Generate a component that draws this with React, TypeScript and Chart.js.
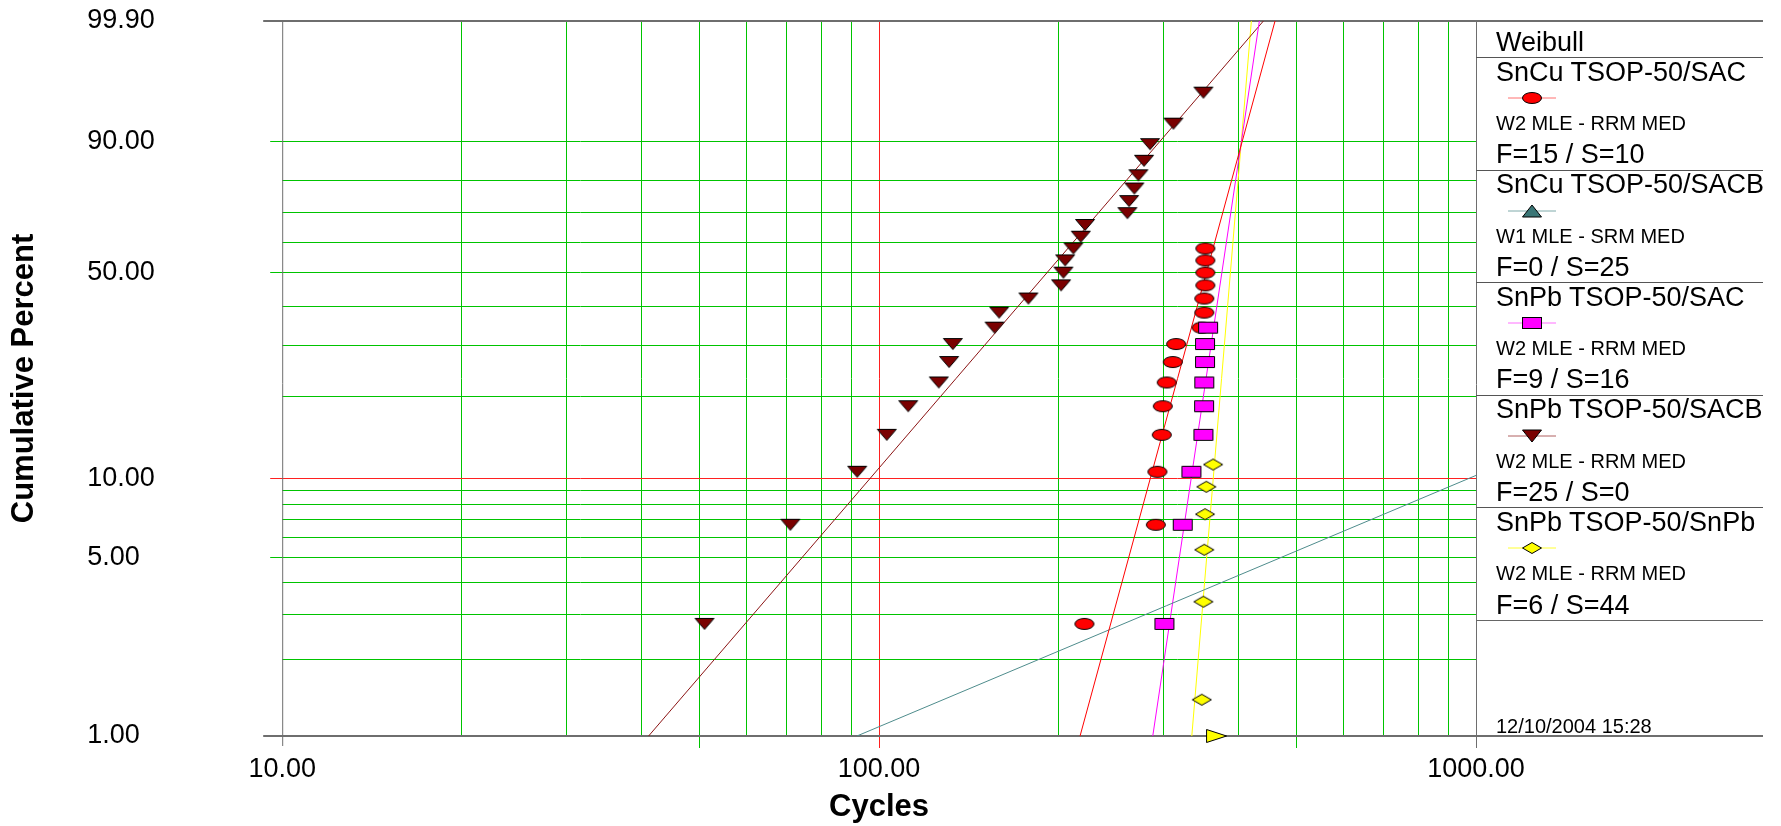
import React, { useEffect, useRef } from 'react';
import { Chart, registerables, Scale } from 'chart.js';

Chart.register(...registerables);

// ---------- axes ----------
const X_GRID = [10, 20, 30, 40, 50, 60, 70, 80, 90, 100, 200, 300, 400, 500, 600, 700, 800, 900, 1000];
const X_LABELS = [10, 100, 1000];
const X_TICK_MARKS = [50, 100, 500];
const X_REF_LINE = 100;
const Y_GRID = [1, 2, 3, 4, 5, 6, 7, 8, 9, 10, 20, 30, 40, 50, 60, 70, 80, 90, 99.9];
const Y_LABELS = [1, 5, 10, 50, 90, 99.9];
const Y_TICK_MARKS = [5, 10, 50, 90];
const Y_REF_LINE = 10;
const X_TITLE = 'Cycles';
const Y_TITLE = 'Cumulative Percent';
const LEGEND_HEADER = 'Weibull';
const TIMESTAMP = '12/10/2004 15:28';

// ---------- legend text ----------
const SERIES_NAMES = ['SnCu TSOP-50/SAC', 'SnCu TSOP-50/SACB', 'SnPb TSOP-50/SAC', 'SnPb TSOP-50/SACB', 'SnPb TSOP-50/SnPb'];
const SERIES_METHODS = ['W2 MLE - RRM MED', 'W1 MLE - SRM MED', 'W2 MLE - RRM MED', 'W2 MLE - RRM MED', 'W2 MLE - RRM MED'];
const SERIES_COUNTS = ['F=15 / S=10', 'F=0 / S=25', 'F=9 / S=16', 'F=25 / S=0', 'F=6 / S=44'];

// ---------- series data (cycles, cumulative %) ----------
const SNCU_SAC_CYCLES = [220.8, 290.8, 292.6, 297.6, 298.7, 303.3, 310.5, 314.5, 347.0, 350.6, 350.6, 352, 352, 352, 352];
const SNCU_SAC_PCT = [2.76, 6.69, 10.63, 14.57, 18.5, 22.44, 26.38, 30.31, 34.25, 38.19, 42.13, 46.06, 50.0, 53.94, 57.87];
const SNCU_SAC_FIT_CYCLES = [217.1, 460.6];
const SNCU_SAC_FIT_PCT = [1, 99.9];

const SNCU_SACB_FIT_CYCLES = [91.8, 1000];
const SNCU_SACB_FIT_PCT = [1, 10.3];

const SNPB_SAC_CYCLES = [300.6, 322.6, 333.6, 349.4, 350.3, 350.6, 351.6, 351.6, 355.8];
const SNPB_SAC_PCT = [2.76, 6.69, 10.63, 14.57, 18.5, 22.44, 26.38, 30.31, 34.25];
const SNPB_SAC_FIT_CYCLES = [287.4, 433.6];
const SNPB_SAC_FIT_PCT = [1, 99.9];

const SNPB_SACB_CYCLES = [51.0, 71.0, 91.9, 103.0, 111.9, 125.9, 131.0, 132.9, 156.1, 158.9, 177.9, 201.8, 203.6, 205.0, 211.6, 217.7, 221.3, 260.6, 262.3, 267.7, 271.9, 277.9, 284.4, 311.2, 349.4];
const SNPB_SACB_PCT = [2.76, 6.69, 10.63, 14.57, 18.5, 22.44, 26.38, 30.31, 34.25, 38.19, 42.13, 46.06, 50.0, 53.94, 57.87, 61.81, 65.75, 69.69, 73.62, 77.56, 81.5, 85.43, 89.37, 93.31, 97.24];
const SNPB_SACB_FIT_CYCLES = [41.1, 440.4];
const SNPB_SACB_FIT_PCT = [1, 99.9];

const SNPB_SNPB_CYCLES = [347.2, 349.4, 350.6, 351.6, 353.4, 362.7];
const SNPB_SNPB_PCT = [1.39, 3.37, 5.36, 7.34, 9.33, 11.31];
const SNPB_SNPB_FIT_CYCLES = [334.1, 420.4];
const SNPB_SNPB_FIT_PCT = [1, 99.9];
const SNPB_SNPB_ARROW_CYCLES = [366.8];
const SNPB_SNPB_ARROW_PCT = [1];

// ---------- styling ----------
const W = 1781;
const H = 826;
const FONT = '"Liberation Sans", Arial, Helvetica, sans-serif';
const GRID_GREEN = '#00C400';
const REF_RED = '#FF2020';
const FRAME = '#6E6E6E';
const LINE_COLORS = ['#FF0000', '#4E8C8C', '#FF00FF', '#8B1414', '#FFFF00'];
const MARKER_FILLS = ['#FF0000', '#3A7676', '#FF00FF', '#7A0000', '#FFFF00'];
const LEGEND_LINE_COLORS = ['#FF7070', '#7FAAAA', '#FF70FF', '#B06060', '#FFFF30'];
const MARKER_SHAPES = ['ellipse', 'triUp', 'rect', 'triDown', 'diamond'];

// Weibull probability transform
const weib = (p: number) => Math.log(-Math.log(1 - p / 100));
const weibInv = (t: number) => 100 * (1 - Math.exp(-Math.exp(t)));

class WeibullScale extends Scale {
  static id = 'weibull';
  static defaults = {};
  determineDataLimits() {
    const b: any = (this as any).getUserBounds();
    (this as any).min = b.min;
    (this as any).max = b.max;
  }
  buildTicks() {
    return Y_GRID.map((value) => ({ value }));
  }
  getLabelForValue(value: number) {
    return Number(value).toFixed(2);
  }
  configure() {
    super.configure();
    (this as any)._wMin = weib((this as any).min);
    (this as any)._wMax = weib((this as any).max);
  }
  getPixelForValue(value: number) {
    const s: any = this;
    return this.getPixelForDecimal((weib(value) - s._wMin) / (s._wMax - s._wMin));
  }
  getValueForPixel(pixel: number) {
    const s: any = this;
    return weibInv(s._wMin + this.getDecimalForPixel(pixel) * (s._wMax - s._wMin));
  }
}
Chart.register(WeibullScale as any);

const pts = (xs: number[], ys: number[]) => xs.map((x, i) => ({ x, y: ys[i] }));

function markerImage(shape: string, fill: string) {
  const w = 19;
  const h = 11;
  const c = document.createElement('canvas');
  c.width = w + 3;
  c.height = h + 3;
  const g = c.getContext('2d') as CanvasRenderingContext2D;
  g.translate(1.5, 1.5);
  g.beginPath();
  if (shape === 'ellipse') {
    g.ellipse(w / 2, h / 2, w / 2, h / 2, 0, 0, Math.PI * 2);
  } else if (shape === 'rect') {
    g.rect(0, 0, w, h);
  } else if (shape === 'triDown') {
    g.moveTo(0, 0); g.lineTo(w, 0); g.lineTo(w / 2, h); g.closePath();
  } else if (shape === 'triUp') {
    g.moveTo(w / 2, 0); g.lineTo(w, h); g.lineTo(0, h); g.closePath();
  } else if (shape === 'diamond') {
    g.moveTo(w / 2, 0); g.lineTo(w, h / 2); g.lineTo(w / 2, h); g.lineTo(0, h / 2); g.closePath();
  } else if (shape === 'triRight') {
    g.moveTo(0, -1); g.lineTo(w + 1, h / 2); g.lineTo(0, h + 1); g.closePath();
  }
  g.fillStyle = fill;
  g.fill();
  g.strokeStyle = '#000';
  g.lineWidth = 1;
  g.stroke();
  return c;
}

const framePlugin = {
  id: 'weibullFrame',
  beforeDatasetsDraw(chart: any) {
    const { ctx, chartArea: a } = chart;
    ctx.save();
    ctx.strokeStyle = FRAME;
    ctx.lineWidth = 2;
    ctx.beginPath();
    ctx.moveTo(a.left - 19, a.top);
    ctx.lineTo(a.right + 287, a.top);
    ctx.moveTo(a.left - 19, a.bottom);
    ctx.lineTo(a.right + 287, a.bottom);
    ctx.stroke();
    ctx.lineWidth = 1;
    ctx.beginPath();
    ctx.moveTo(a.left + 0.5, a.top);
    ctx.lineTo(a.left + 0.5, a.bottom + 10);
    ctx.moveTo(a.right + 0.5, a.top);
    ctx.lineTo(a.right + 0.5, a.bottom + 12);
    ctx.stroke();
    ctx.restore();
  },
};

function LegendText(props: { top: number; size: number; children: any }) {
  const lh = props.size * 1.2;
  return (
    <div
      style={{
        position: 'absolute',
        left: 20,
        top: props.top - lh / 2,
        fontSize: props.size,
        lineHeight: lh + 'px',
        fontFamily: FONT,
        color: '#000',
        whiteSpace: 'nowrap',
      }}
    >
      {props.children}
    </div>
  );
}

function LegendMarker(props: { top: number; index: number }) {
  const i = props.index;
  const fill = MARKER_FILLS[i];
  const shape = MARKER_SHAPES[i];
  let el: any = null;
  if (shape === 'ellipse') el = <ellipse cx={24} cy={7} rx={9.5} ry={5.5} fill={fill} stroke="#000" strokeWidth={1} />;
  else if (shape === 'rect') el = <rect x={14.5} y={1.5} width={19} height={11} fill={fill} stroke="#000" strokeWidth={1} />;
  else if (shape === 'triUp') el = <polygon points="14.5,13 33.5,13 24,1" fill={fill} stroke="#000" strokeWidth={1} />;
  else if (shape === 'triDown') el = <polygon points="14.5,1 33.5,1 24,13" fill={fill} stroke="#000" strokeWidth={1} />;
  else el = <polygon points="14.5,7 24,1.5 33.5,7 24,12.5" fill={fill} stroke="#000" strokeWidth={1} />;
  return (
    <svg width={48} height={14} style={{ position: 'absolute', left: 32, top: props.top - 7 }}>
      <line x1={0} y1={7} x2={48} y2={7} stroke={LEGEND_LINE_COLORS[i]} strokeWidth={1} />
      {el}
    </svg>
  );
}

function Legend() {
  const secH = 112.6;
  const base = 36;
  return (
    <div style={{ position: 'absolute', left: 1476, top: 21, width: 287, height: 715 }}>
      <LegendText top={20.7} size={27}>{LEGEND_HEADER}</LegendText>
      {SERIES_NAMES.map((name, i) => {
        const t = base + i * secH;
        return (
          <React.Fragment key={name}>
            <div style={{ position: 'absolute', left: 0, width: 287, top: Math.round(t), height: 1, background: '#555' }} />
            <LegendText top={t + 14.7} size={27}>{name}</LegendText>
            <LegendMarker top={t + 41} index={i} />
            <LegendText top={t + 66} size={20}>{SERIES_METHODS[i]}</LegendText>
            <LegendText top={t + 97.3} size={27}>{SERIES_COUNTS[i]}</LegendText>
          </React.Fragment>
        );
      })}
      <div style={{ position: 'absolute', left: 0, width: 287, top: Math.round(base + 5 * secH), height: 1, background: '#666' }} />
      <LegendText top={704.7} size={20}>{TIMESTAMP}</LegendText>
    </div>
  );
}

export default function App() {
  const ref = useRef<HTMLCanvasElement>(null);

  useEffect(() => {
    document.body.style.margin = '0';
    const canvas = ref.current;
    if (!canvas) return;

    const mk = {
      ellipse: markerImage('ellipse', MARKER_FILLS[0]),
      rect: markerImage('rect', MARKER_FILLS[2]),
      triDown: markerImage('triDown', MARKER_FILLS[3]),
      diamond: markerImage('diamond', MARKER_FILLS[4]),
      triRight: markerImage('triRight', MARKER_FILLS[4]),
    };

    const fitLine = (label: string, xs: number[], ys: number[], color: string) => ({
      label,
      data: pts(xs, ys),
      showLine: true,
      borderColor: color,
      borderWidth: 1,
      pointRadius: 0,
      fill: false,
      tension: 0,
      order: 10,
    });

    const scatter = (label: string, xs: number[], ys: number[], style: any, order: number, extra: any = {}) => ({
      label,
      data: pts(xs, ys),
      showLine: false,
      pointStyle: style,
      pointRadius: 8,
      order,
      ...extra,
    });

    const labelFont = { size: 27, family: FONT };
    const titleFont = { size: 31, family: FONT, weight: 'bold' as const };

    const chart = new Chart(canvas, {
      type: 'scatter',
      data: {
        datasets: [
          fitLine('SnCu TSOP-50/SAC fit', SNCU_SAC_FIT_CYCLES, SNCU_SAC_FIT_PCT, LINE_COLORS[0]),
          fitLine('SnCu TSOP-50/SACB fit', SNCU_SACB_FIT_CYCLES, SNCU_SACB_FIT_PCT, LINE_COLORS[1]),
          fitLine('SnPb TSOP-50/SAC fit', SNPB_SAC_FIT_CYCLES, SNPB_SAC_FIT_PCT, LINE_COLORS[2]),
          fitLine('SnPb TSOP-50/SACB fit', SNPB_SACB_FIT_CYCLES, SNPB_SACB_FIT_PCT, LINE_COLORS[3]),
          fitLine('SnPb TSOP-50/SnPb fit', SNPB_SNPB_FIT_CYCLES, SNPB_SNPB_FIT_PCT, LINE_COLORS[4]),
          scatter('SnCu TSOP-50/SAC', SNCU_SAC_CYCLES, SNCU_SAC_PCT, mk.ellipse, 5),
          scatter('SnPb TSOP-50/SAC', SNPB_SAC_CYCLES, SNPB_SAC_PCT, mk.rect, 4),
          scatter('SnPb TSOP-50/SACB', SNPB_SACB_CYCLES, SNPB_SACB_PCT, mk.triDown, 3),
          scatter('SnPb TSOP-50/SnPb', SNPB_SNPB_CYCLES, SNPB_SNPB_PCT, mk.diamond, 2),
          scatter('SnPb TSOP-50/SnPb suspended', SNPB_SNPB_ARROW_CYCLES, SNPB_SNPB_ARROW_PCT, mk.triRight, 1, { clip: false }),
        ] as any,
      },
      options: {
        responsive: false,
        animation: false,
        events: [],
        layout: { padding: { left: 0, top: 21, right: 305, bottom: 0 } },
        plugins: {
          legend: { display: false },
          tooltip: { enabled: false },
          title: {
            display: true,
            text: Y_TITLE,
            position: 'left',
            fullSize: false,
            color: '#000',
            font: titleFont,
            padding: { top: 6, bottom: 44 },
          },
        },
        scales: {
          x: {
            type: 'logarithmic',
            position: 'bottom',
            min: 10,
            max: 1000,
            afterBuildTicks: (s: any) => {
              s.ticks = X_GRID.map((value) => ({ value }));
            },
            afterFit: (s: any) => {
              s.height = 90;
            },
            ticks: {
              autoSkip: false,
              maxRotation: 0,
              minRotation: 0,
              padding: 5,
              color: '#000',
              font: labelFont,
              callback: (v: any) => (X_LABELS.includes(Number(v)) ? Number(v).toFixed(2) : ''),
            },
            grid: {
              lineWidth: 1,
              tickLength: 12,
              color: (c: any) => {
                const v = c.tick && c.tick.value;
                if (v === X_GRID[0] || v === X_GRID[X_GRID.length - 1]) return 'rgba(0,0,0,0)';
                return v === X_REF_LINE ? REF_RED : GRID_GREEN;
              },
              tickColor: (c: any) => {
                const v = c.tick && c.tick.value;
                if (!X_TICK_MARKS.includes(v)) return 'rgba(0,0,0,0)';
                return v === X_REF_LINE ? REF_RED : GRID_GREEN;
              },
            },
            border: { display: false },
            title: {
              display: true,
              text: X_TITLE,
              color: '#000',
              font: titleFont,
              padding: { top: 0, bottom: 0 },
            },
          },
          y: {
            type: 'weibull',
            position: 'left',
            min: 1,
            max: 99.9,
            afterFit: (s: any) => {
              s.width = 195;
            },
            ticks: {
              autoSkip: false,
              crossAlign: 'far',
              padding: 0,
              color: '#000',
              font: labelFont,
              callback: (v: any) => (Y_LABELS.includes(Number(v)) ? Number(v).toFixed(2) : ''),
            },
            grid: {
              lineWidth: 1,
              tickLength: 12,
              color: (c: any) => {
                const v = c.tick && c.tick.value;
                if (v === Y_GRID[0] || v === Y_GRID[Y_GRID.length - 1]) return 'rgba(0,0,0,0)';
                return v === Y_REF_LINE ? REF_RED : GRID_GREEN;
              },
              tickColor: (c: any) => {
                const v = c.tick && c.tick.value;
                if (!Y_TICK_MARKS.includes(v)) return 'rgba(0,0,0,0)';
                return v === Y_REF_LINE ? REF_RED : GRID_GREEN;
              },
            },
            border: { display: false },
          } as any,
        },
      } as any,
      plugins: [framePlugin],
    });

    return () => chart.destroy();
  }, []);

  return (
    <div style={{ position: 'absolute', left: 0, top: 0, width: W, height: H, background: '#fff', overflow: 'hidden' }}>
      <canvas ref={ref} width={W} height={H} style={{ display: 'block' }} />
      <Legend />
    </div>
  );
}
